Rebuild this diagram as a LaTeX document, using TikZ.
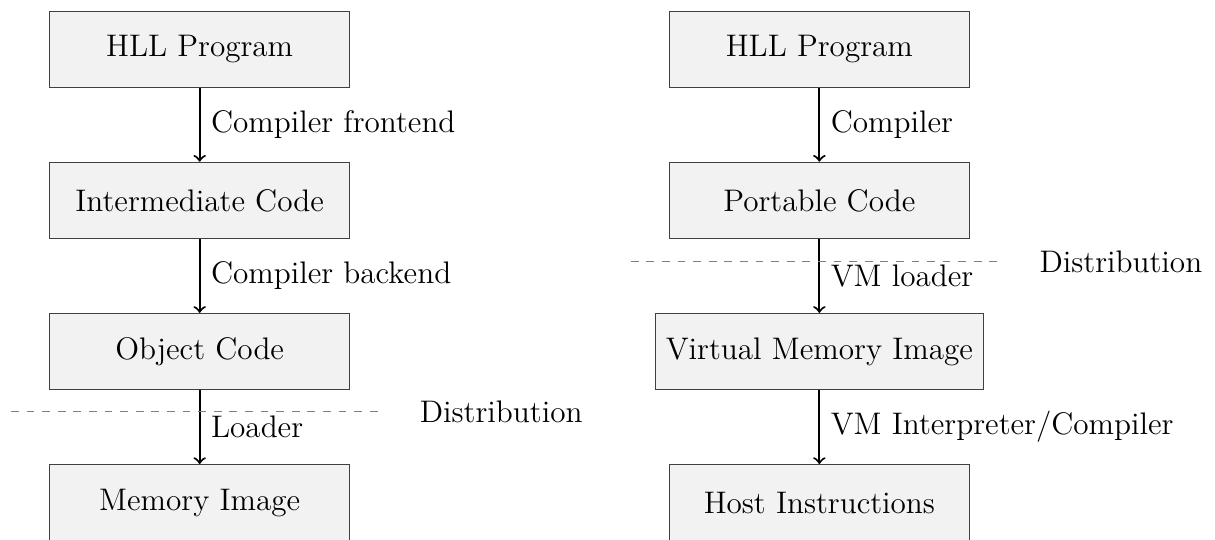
\documentclass[12pt,tikz,border=0pt]{standalone}
\usetikzlibrary{positioning}
\tikzset{
  block/.style = {draw = black!75, fill = gray!10, minimum width = 4.05cm, minimum height = 1.03cm},
  flow/.style = {->, thick},
  distline/.style = {dashed, semithick, draw = gray}
}
\begin{document}
\begin{tikzpicture}[node distance = 1cm]
\useasboundingbox (-2.70,0.665) rectangle (13.73,-6.625);
% native compilation
\node[block] (hllA) at (0,0) {HLL Program};
\node[block, below = of hllA] (interA) {Intermediate Code};
\node[block, below = of interA] (objA) {Object Code};
\node[block, below = of objA] (memA) {Memory Image};
\draw[flow] (hllA) -- node[right] {Compiler frontend} (interA);
\draw[flow] (interA) -- node[right] {Compiler backend} (objA);
\draw[flow] (objA) -- node[right] {Loader} (memA);
% virtual machine
\node[block] (hllB) at (8.38,0) {HLL Program};
\node[block, below = of hllB] (portB) {Portable Code};
\node[block, below = of portB] (vmiB) {Virtual Memory Image};
\node[block, below = of vmiB] (hostB) {Host Instructions};
\draw[flow] (hllB) -- node[right] {Compiler} (portB);
\draw[flow] (portB) -- node[right] {VM loader} (vmiB);
\draw[flow] (vmiB) -- node[right] {VM Interpreter/Compiler} (hostB);
% distribution cuts
\coordinate (dlA) at (-2.55,-4.9);
\coordinate (drA) at (2.5,-4.9);
\coordinate (dlB) at (5.83,-2.87);
\coordinate (drB) at (10.88,-2.87);
\draw[distline] (dlA) -- (drA);
\draw[distline] (dlB) -- (drB);
\node[anchor = west] (distA) at (2.83,-4.9) {Distribution};
\node[anchor = west] (distB) at (11.21,-2.87) {Distribution};
\end{tikzpicture}
\end{document}
